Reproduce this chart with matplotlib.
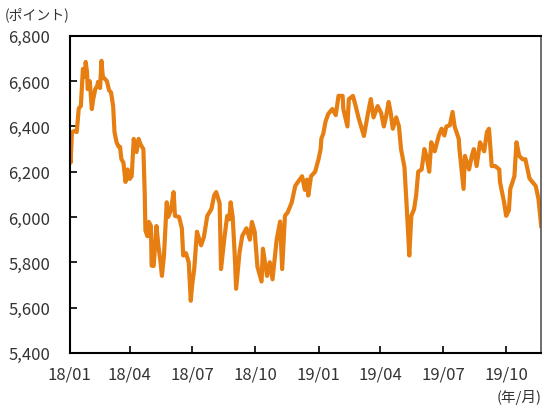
import matplotlib
matplotlib.use("Agg")
import matplotlib.pyplot as plt
import matplotlib.ticker as mticker
import pandas as pd

plt.rcParams["font.family"] = ["Noto Sans CJK JP", "DejaVu Sans"]

# =============================================================================
# DATA
# =============================================================================

dates = [
    "2018-01-04", "2018-01-05", "2018-01-06", "2018-01-07", "2018-01-11",
    "2018-01-14", "2018-01-17", "2018-01-20", "2018-01-23", "2018-01-26",
    "2018-01-27", "2018-01-29", "2018-01-30", "2018-02-02", "2018-02-05",
    "2018-02-07", "2018-02-10", "2018-02-13", "2018-02-14", "2018-02-17",
    "2018-02-19", "2018-02-21", "2018-02-24", "2018-02-27", "2018-03-02",
    "2018-03-05", "2018-03-08", "2018-03-10", "2018-03-13", "2018-03-16",
    "2018-03-18", "2018-03-20", "2018-03-23", "2018-03-26", "2018-03-29",
    "2018-04-01", "2018-04-04", "2018-04-07", "2018-04-09", "2018-04-11",
    "2018-04-14", "2018-04-17", "2018-04-21", "2018-04-23", "2018-04-24",
    "2018-04-27", "2018-04-29", "2018-05-02", "2018-05-03", "2018-05-06",
    "2018-05-09", "2018-05-10", "2018-05-13", "2018-05-16", "2018-05-18",
    "2018-05-21", "2018-05-25", "2018-05-27", "2018-05-31", "2018-06-04",
    "2018-06-06", "2018-06-12", "2018-06-16", "2018-06-18", "2018-06-22",
    "2018-06-26", "2018-06-29", "2018-07-01", "2018-07-04", "2018-07-08",
    "2018-07-14", "2018-07-18", "2018-07-23", "2018-07-29", "2018-08-02",
    "2018-08-05", "2018-08-10", "2018-08-12", "2018-08-17", "2018-08-21",
    "2018-08-24", "2018-08-26", "2018-08-29", "2018-09-01", "2018-09-03",
    "2018-09-08", "2018-09-12", "2018-09-18", "2018-09-23", "2018-09-26",
    "2018-09-30", "2018-10-04", "2018-10-10", "2018-10-12", "2018-10-18",
    "2018-10-22", "2018-10-26", "2018-11-01", "2018-11-06", "2018-11-09",
    "2018-11-13", "2018-11-17", "2018-11-23", "2018-11-28", "2018-12-02",
    "2018-12-08", "2018-12-12", "2018-12-15", "2018-12-17", "2018-12-21",
    "2018-12-27", "2019-01-01", "2019-01-04", "2019-01-05", "2019-01-08",
    "2019-01-11", "2019-01-15", "2019-01-21", "2019-01-26", "2019-01-30",
    "2019-02-05", "2019-02-06", "2019-02-12", "2019-02-14", "2019-02-20",
    "2019-02-24", "2019-02-28", "2019-03-08", "2019-03-14", "2019-03-18",
    "2019-03-22", "2019-03-28", "2019-04-02", "2019-04-06", "2019-04-09",
    "2019-04-12", "2019-04-13", "2019-04-16", "2019-04-19", "2019-04-24",
    "2019-04-28", "2019-05-01", "2019-05-06", "2019-05-10", "2019-05-13",
    "2019-05-16", "2019-05-20", "2019-05-23", "2019-05-26", "2019-05-31",
    "2019-06-04", "2019-06-07", "2019-06-11", "2019-06-14", "2019-06-19",
    "2019-06-25", "2019-06-29", "2019-07-03", "2019-07-06", "2019-07-11",
    "2019-07-15", "2019-07-18", "2019-07-24", "2019-07-25", "2019-07-31",
    "2019-08-02", "2019-08-08", "2019-08-12", "2019-08-15", "2019-08-19",
    "2019-08-24", "2019-08-30", "2019-09-03", "2019-09-06", "2019-09-10",
    "2019-09-15", "2019-09-21", "2019-09-22", "2019-09-28", "2019-10-01",
    "2019-10-05", "2019-10-07", "2019-10-13", "2019-10-16", "2019-10-20",
    "2019-10-25", "2019-10-29", "2019-11-04", "2019-11-08", "2019-11-13",
    "2019-11-17", "2019-11-21",
]

points = [
    6300, 6240, 6300, 6375, 6380,
    6375, 6480, 6490, 6654, 6620,
    6685, 6640, 6565, 6600, 6477,
    6520, 6565, 6580, 6597, 6570,
    6690, 6620, 6610, 6600, 6560,
    6550, 6490, 6375, 6330, 6310,
    6310, 6256, 6240, 6155, 6210,
    6168, 6180, 6345, 6300, 6287,
    6345, 6320, 6300, 6100, 5940,
    5915, 5978, 5960, 5785, 5784,
    5920, 5960, 5870, 5800, 5740,
    5830, 6065, 6000, 6030, 6110,
    6005, 6000, 5950, 5830, 5840,
    5800, 5630, 5700, 5770, 5935,
    5875, 5910, 6005, 6035, 6095,
    6110, 6060, 5770, 5910, 6005,
    5990, 6065, 6000, 5830, 5683,
    5845, 5917, 5950, 5900, 5978,
    5935, 5780, 5715, 5860, 5740,
    5800, 5725, 5900, 5980, 5770,
    6005, 6020, 6065, 6137, 6155,
    6180, 6120, 6165, 6095, 6180,
    6200, 6256, 6300, 6345, 6370,
    6420, 6455, 6477, 6450, 6535,
    6535, 6477, 6400, 6520, 6535,
    6490, 6440, 6358, 6460, 6521,
    6440, 6490, 6460, 6400, 6440,
    6490, 6508, 6460, 6390, 6440,
    6400, 6300, 6220, 6005, 5830,
    6005, 6035, 6095, 6200, 6210,
    6300, 6270, 6200, 6330, 6290,
    6360, 6390, 6360, 6400, 6405,
    6464, 6400, 6345, 6300, 6124,
    6270, 6210, 6270, 6300, 6225,
    6330, 6290, 6375, 6390, 6225,
    6225, 6210, 6155, 6065, 6005,
    6030, 6124, 6180, 6330, 6270,
    6255, 6255, 6170, 6155, 6137,
    6080, 5960,
]

tick_months = ["2018-01", "2018-04", "2018-07", "2018-10",
               "2019-01", "2019-04", "2019-07", "2019-10"]
tick_labels = ["18/01", "18/04", "18/07", "18/10",
               "19/01", "19/04", "19/07", "19/10"]

# =============================================================================
# PLOT
# =============================================================================

x = pd.to_datetime(dates)
line_color = "#E67E12"
text_color = "#333333"

fig = plt.figure(figsize=(5.5, 4.1), dpi=100)
ax = fig.add_axes([0.127, 0.137, 0.857, 0.773])

ax.plot(x, points, color=line_color, linewidth=3.0, solid_joinstyle="round")

ax.set_ylim(5400, 6800)
ax.set_yticks(range(5400, 6801, 200))
ax.yaxis.set_major_formatter(mticker.StrMethodFormatter("{x:,.0f}"))

ax.set_xlim(x[0], x[-1])
ticks = pd.to_datetime(tick_months)
ticks = ticks.where(ticks > x[0], x[0])
ax.set_xticks(ticks)
ax.set_xticklabels(tick_labels)

ax.tick_params(axis="both", direction="in", length=5, width=1.2,
               labelsize=12, colors="black", labelcolor=text_color)
ax.tick_params(axis="x", pad=9)
ax.tick_params(axis="y", pad=14)

for side in ["left", "bottom", "top"]:
    ax.spines[side].set_linewidth(1.5)
    ax.spines[side].set_color("black")
ax.spines["right"].set_linewidth(1.2)
ax.spines["right"].set_color("#555555")

fig.text(0.008, 0.965, "(ポイント)", fontsize=10, color=text_color,
         ha="left", va="center")
fig.text(0.985, 0.03, "(年/月)", fontsize=10.5, color=text_color,
         ha="right", va="center")

fig.savefig("out.png", dpi=100)
